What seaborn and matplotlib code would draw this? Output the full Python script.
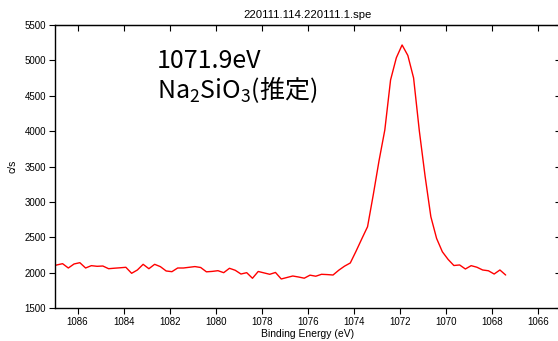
import matplotlib
matplotlib.use("Agg")
import matplotlib.pyplot as plt
import seaborn as sns
import pandas as pd

# Na 1s region scan: binding energy (eV) and intensity (counts/s)
binding_energy = [
    1087.15, 1086.90, 1086.65, 1086.40, 1086.15, 1085.90, 1085.65, 1085.40,
    1085.15, 1084.90, 1084.65, 1084.40, 1084.15, 1083.90, 1083.65, 1083.40,
    1083.15, 1082.90, 1082.65, 1082.40, 1082.15, 1081.90, 1081.65, 1081.40,
    1081.15, 1080.90, 1080.65, 1080.40, 1080.15, 1079.90, 1079.65, 1079.40,
    1079.15, 1078.90, 1078.65, 1078.40, 1078.15, 1077.90, 1077.65, 1077.40,
    1077.15, 1076.90, 1076.65, 1076.40, 1076.15, 1075.90, 1075.65, 1075.40,
    1075.15, 1074.90, 1074.65, 1074.40, 1074.15, 1073.90, 1073.65, 1073.40,
    1073.15, 1072.90, 1072.65, 1072.40, 1072.15, 1071.90, 1071.65, 1071.40,
    1071.15, 1070.90, 1070.65, 1070.40, 1070.15, 1069.90, 1069.65, 1069.40,
    1069.15, 1068.90, 1068.65, 1068.40, 1068.15, 1067.90, 1067.65, 1067.40,
]
counts = [
    2090, 2112, 2130, 2069, 2126, 2144, 2069, 2102,
    2093, 2097, 2059, 2066, 2072, 2079, 1994, 2041,
    2121, 2059, 2121, 2088, 2027, 2017, 2069, 2069,
    2079, 2089, 2076, 2015, 2021, 2031, 2003, 2065,
    2037, 1984, 2003, 1924, 2020, 2000, 1980, 2006,
    1914, 1935, 1956, 1942, 1925, 1968, 1953, 1980,
    1976, 1970, 2038, 2095, 2140, 2306, 2481, 2652,
    3106, 3586, 4018, 4724, 5037, 5218, 5070, 4752,
    4003, 3364, 2793, 2486, 2298, 2190, 2104, 2112,
    2055, 2102, 2080, 2041, 2030, 1984, 2041, 1970,
]

x_ticks = [1086, 1084, 1082, 1080, 1078, 1076, 1074, 1072, 1070, 1068, 1066]
y_ticks = [1500, 2000, 2500, 3000, 3500, 4000, 4500, 5000, 5500]

title_text = "220111.114.220111.1.spe"
peak_label = "1071.9eV"
compound_label = "Na$_2$SiO$_3$(推定)"

sns.set_style("ticks")
plt.rcParams["font.family"] = ["Liberation Sans", "DejaVu Sans"]
plt.rcParams["mathtext.default"] = "regular"
plt.rcParams["text.color"] = "black"
plt.rcParams["axes.labelcolor"] = "black"
plt.rcParams["xtick.color"] = "black"
plt.rcParams["ytick.color"] = "black"

df = pd.DataFrame({"Binding Energy (eV)": binding_energy, "c/s": counts})

fig = plt.figure(figsize=(5.58, 3.41), dpi=100)
ax = fig.add_axes([0.0977, 0.0959, 0.9075, 0.8308])

sns.lineplot(data=df, x="Binding Energy (eV)", y="c/s", sort=False,
             color="#ff0000", linewidth=1.0, ax=ax)

ax.set_xlim(1087, 1065)
ax.set_ylim(1500, 5500)
ax.set_xticks(x_ticks)
ax.set_yticks(y_ticks)
ax.tick_params(axis="both", direction="out", length=4.5, width=0.8,
               labelsize=7, pad=1.5, colors="black")

for side in ["left", "bottom", "top", "right"]:
    ax.spines[side].set_visible(True)
    ax.spines[side].set_linewidth(1.0)
    ax.spines[side].set_color("black")

# inward ticks on the top and right frame edges
top = ax.secondary_xaxis("top")
top.set_xticks(x_ticks)
top.tick_params(direction="in", length=4.5, width=0.8, labeltop=False)
right = ax.secondary_yaxis("right")
right.set_yticks(y_ticks)
right.tick_params(direction="in", length=4.5, width=0.8, labelright=False)

ax.set_xlabel("Binding Energy (eV)", fontsize=7.5, labelpad=1.5, color="black")
ax.set_ylabel("c/s", fontsize=7.5, labelpad=5, color="black")
ax.set_title(title_text, fontsize=8.2, pad=5, color="black")

ax.text(0.2026, 0.847, peak_label, transform=ax.transAxes, color="black",
        fontsize=18, family=["Noto Sans CJK JP"], va="baseline", ha="left")
ax.text(0.2026, 0.741, compound_label, transform=ax.transAxes, color="black",
        fontsize=18, family=["Noto Sans CJK JP"], va="baseline", ha="left")

fig.savefig("out.png", dpi=100)
